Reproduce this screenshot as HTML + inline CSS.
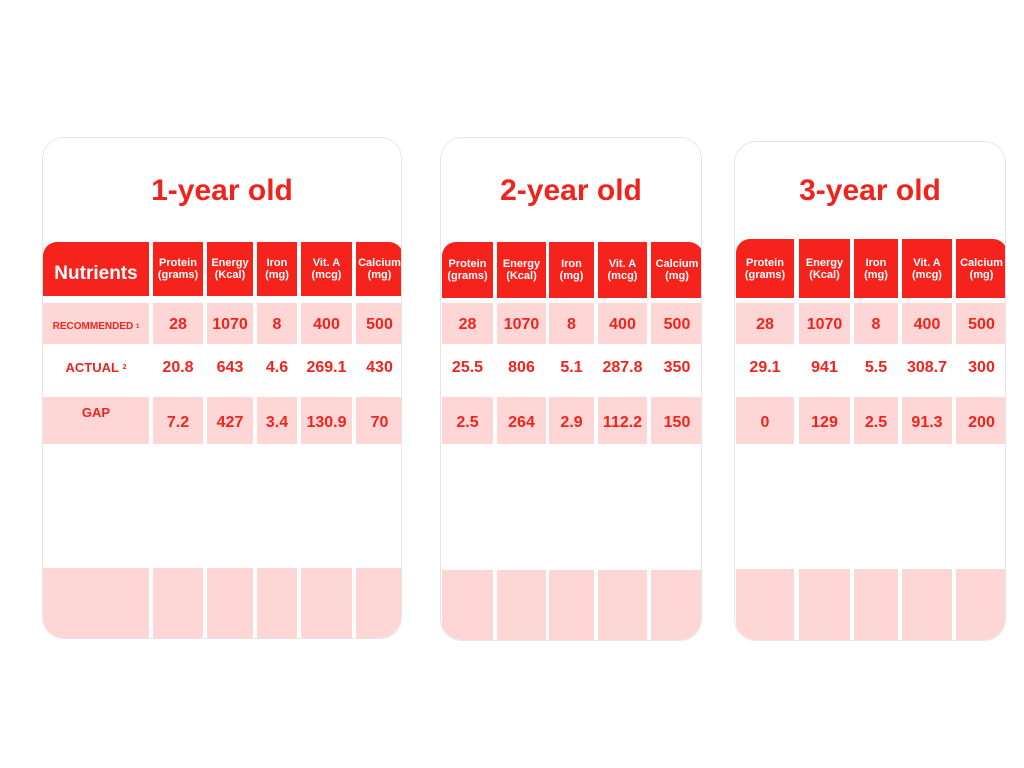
<!DOCTYPE html>
<html><head><meta charset="utf-8"><style>
body{margin:0;width:1024px;height:768px;background:#fff;position:relative;overflow:hidden;font-family:"Liberation Sans",sans-serif;}
.panel{position:absolute;border:1px solid #e6e6e6;border-radius:22px;background:#fff;overflow:hidden;box-sizing:border-box;}
.c{position:absolute;box-sizing:border-box;display:flex;align-items:center;justify-content:center;text-align:center;font-weight:bold;color:#f0241d;}
.h{background:#f5231c;color:#fff;font-size:11px;line-height:12px;}
.p{background:#ffd6d6;}
.title{position:absolute;left:0;right:0;text-align:center;color:#f0241d;font-weight:bold;font-size:30px;}
</style></head><body>
<script>
const ages=["1-year old","2-year old","3-year old"];
const nutrients=["Protein<br>(grams)","Energy<br>(Kcal)","Iron<br>(mg)","Vit. A<br>(mcg)","Calcium<br>(mg)"];
const recommended=[["28","1070","8","400","500"],["28","1070","8","400","500"],["28","1070","8","400","500"]];
const actual=[["20.8","643","4.6","269.1","430"],["25.5","806","5.1","287.8","350"],["29.1","941","5.5","308.7","300"]];
const gap=[["7.2","427","3.4","130.9","70"],["2.5","264","2.9","112.2","150"],["0","129","2.5","91.3","200"]];
// layout
const panels=[{x:42,y:137,w:360,h:502,hy:241,hh:54,cols:[[152,50],[206,46],[256,40],[300,51],[355,47]],by:567},
{x:440,y:137,w:262,h:504,hy:241,hh:56,cols:[[441,51],[496,49],[548,45],[597,49],[650,52]],by:569},
{x:734,y:141,w:272,h:500,hy:238,hh:59,cols:[[735,58],[798,51],[853,44],[901,50],[955,51]],by:568}];
const rows=[{y:302,h:41,pink:true,data:recommended},{y:344,h:46,pink:false,data:actual},{y:396,h:47,pink:true,data:gap}];
function cell(parent,x,y,w,h,cls,html,name){const d=document.createElement('div');d.className='c '+cls;
d.style.cssText=`left:${x}px;top:${y}px;width:${w}px;height:${h}px;`;d.innerHTML=html;


parent.appendChild(d);return d;}
panels.forEach((P,i)=>{
 const pe=document.createElement('div');pe.className='panel';
 pe.style.cssText=`left:${P.x}px;top:${P.y}px;width:${P.w}px;height:${P.h}px;`;
 
 
 document.body.appendChild(pe);
 const t=document.createElement('div');t.className='title';t.textContent=ages[i];
 t.style.top=(190-P.y-17)+'px';
 
 
 pe.appendChild(t);
 const ox=P.x,oy=P.y;
 if(i===0){
  const n=cell(pe,0,P.hy-oy,148-ox,P.hh,'h','Nutrients','nutrients-header');n.style.fontSize='19px';n.style.paddingTop='10px';
  n.style.borderTopLeftRadius='14px';
  const lbl=['RECOMMENDED&nbsp;<sup style="font-size:6px">1</sup>','ACTUAL&nbsp;<sup style="font-size:7px">2</sup>','GAP'];
  const fs=[10,13,13];
  rows.forEach((r,k)=>{const c=cell(pe,0,r.y-oy,148-ox,r.h,r.pink?'p':'',lbl[k],'row-label');c.style.fontSize=fs[k]+'px';
   if(k===0){c.style.paddingTop='6px';}
   if(k===1){c.style.paddingBottom='2px';}
   if(k===2){c.style.alignItems='flex-start';c.style.paddingTop='8px';}});
  cell(pe,0,P.by-oy,148-ox,80,'p','','footer-cell');
 }
 P.cols.forEach((c,j)=>{
  const hc=cell(pe,c[0]-ox,P.hy-oy,c[1],P.hh,'h',nutrients[j],'nutrient-header');
  if(j===4) hc.style.borderTopRightRadius='14px';
  if(j===0&&i>0) hc.style.borderTopLeftRadius='14px';
  rows.forEach((r,k)=>{const e=cell(pe,c[0]-ox,r.y-oy,c[1],r.h,r.pink?'p':'',r.data[i][j],'value-cell');e.style.fontSize='16px';
   if(k===0)e.style.paddingTop='2px';
   if(k===2)e.style.paddingTop='4px';});
  cell(pe,c[0]-ox,P.by-oy,c[1],80,'p','','footer-cell');
 });
});
</script>
</body></html>
